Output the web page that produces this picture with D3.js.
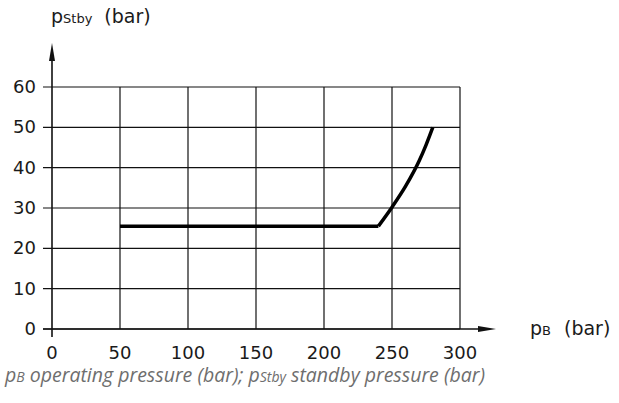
<!DOCTYPE html>
<html>
<head>
<meta charset="utf-8">
<script src="https://cdn.jsdelivr.net/npm/d3@7"></script>
<style>
  body { margin: 0; background: #fff; }
  text { font-family: "DejaVu Sans", sans-serif; fill: #1a1a1a; }
</style>
</head>
<body>
<div class="chart"></div>
<script>
// axis ticks
var xTicks = [0, 50, 100, 150, 200, 250, 300];
var yTicks = [0, 10, 20, 30, 40, 50, 60];

// standby pressure curve: flat part then rising part
var flatPB = [50, 240];
var flatPStby = [25.5, 25.5];
var risePB = [240, 250, 260, 270, 275, 280];
var risePStby = [25.5, 30.2, 35.4, 41.7, 45.6, 50];

var margin = { top: 87, right: 159, bottom: 74, left: 52 };
var width = 619 - margin.left - margin.right;
var height = 403 - margin.top - margin.bottom;

var svg = d3.select('.chart')
  .append('svg')
    .attr('width', 619)
    .attr('height', 403);

var g = svg.append('g')
    .attr('transform', `translate(${margin.left}, ${margin.top})`);

var xScale = d3.scaleLinear().domain([0, 300]).range([0, 408]);
var yScale = d3.scaleLinear().domain([0, 60]).range([height, 0]);

// grid
g.selectAll('.vgrid')
  .data(xTicks.filter(d => d > 0))
  .enter().append('line')
    .attr('x1', d => xScale(d)).attr('x2', d => xScale(d))
    .attr('y1', yScale(60)).attr('y2', yScale(0))
    .attr('stroke', '#111').attr('stroke-width', 1.2);

g.selectAll('.hgrid')
  .data(yTicks)
  .enter().append('line')
    .attr('x1', -9).attr('x2', xScale(300))
    .attr('y1', d => yScale(d)).attr('y2', d => yScale(d))
    .attr('stroke', '#111').attr('stroke-width', 1.2);

// axes with arrows
g.append('line')
  .attr('x1', 0).attr('x2', 0)
  .attr('y1', yScale(0) + 8).attr('y2', -30)
  .attr('stroke', '#111').attr('stroke-width', 1.6);
g.append('path')
  .attr('d', 'M0,-44 L-3,-26 L3,-26 Z')
  .attr('fill', '#111');

g.append('line')
  .attr('x1', -9).attr('x2', 430)
  .attr('y1', yScale(0)).attr('y2', yScale(0))
  .attr('stroke', '#111').attr('stroke-width', 1.6);
g.append('path')
  .attr('d', `M444,${yScale(0)} L426,${yScale(0) - 3} L426,${yScale(0) + 3} Z`)
  .attr('fill', '#111');

// tick labels
g.selectAll('.ylab')
  .data(yTicks)
  .enter().append('text')
    .attr('x', -16)
    .attr('y', d => yScale(d) + 6)
    .attr('text-anchor', 'end')
    .style('font-size', '18px')
    .text(d => d);

g.selectAll('.xlab')
  .data(xTicks)
  .enter().append('text')
    .attr('x', d => xScale(d))
    .attr('y', yScale(0) + 30)
    .attr('text-anchor', 'middle')
    .style('font-size', '18px')
    .text(d => d);

// curve
var line = d3.line()
  .x(d => xScale(d[0]))
  .y(d => yScale(d[1]));

g.append('path')
  .datum(d3.zip(flatPB, flatPStby))
  .attr('d', line)
  .attr('fill', 'none')
  .attr('stroke', '#000')
  .attr('stroke-width', 3.5);

g.append('path')
  .datum(d3.zip(risePB, risePStby))
  .attr('d', line.curve(d3.curveMonotoneX))
  .attr('fill', 'none')
  .attr('stroke', '#000')
  .attr('stroke-width', 3.5);

// axis titles
var yt = svg.append('text').attr('x', 51).attr('y', 23).style('font-size', '19px');
yt.append('tspan').text('p');
yt.append('tspan').style('font-size', '13px').text('Stby');
yt.append('tspan').attr('dx', 12).text('(bar)');

var xt = svg.append('text').attr('x', 530).attr('y', yScale(0) + margin.top + 6).style('font-size', '19px');
xt.append('tspan').text('p');
xt.append('tspan').style('font-size', '13px').text('B');
xt.append('tspan').attr('dx', 13).text('(bar)');

// caption
var cap = svg.append('text')
  .attr('x', 5).attr('y', 382)
  .style('font-family', '"Open Sans", sans-serif')
  .style('font-style', 'italic')
  .style('font-size', '19.5px')
  .style('fill', '#6e6e6e');
cap.append('tspan').text('p');
cap.append('tspan').style('font-size', '14px').text('B');
cap.append('tspan').text(' operating pressure (bar); p');
cap.append('tspan').style('font-size', '14px').text('Stby');
cap.append('tspan').text(' standby pressure (bar)');
</script>
</body>
</html>
